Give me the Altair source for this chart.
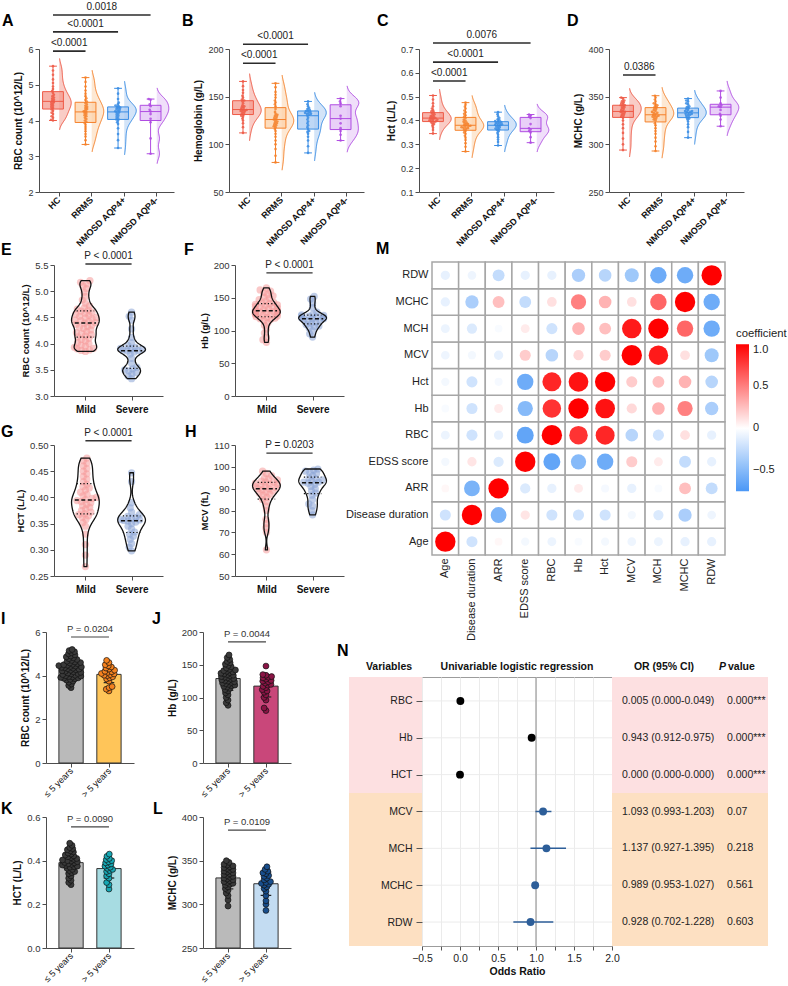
import json

import altair as alt
import pandas as pd

FONT = "Liberation Sans"
AXC = "#4d4d4d"

# ---------------------------------------------------------------- A-D: indices by diagnosis
GROUPS4 = ["HC", "RRMS", "NMOSD AQP4+", "NMOSD AQP4-"]
RC_LINE = ["#ee5a47", "#f5812b", "#3a8de4", "#b04ce2"]
RC_FILL = ["#f49a8e", "#fcd1a8", "#a8caf2", "#e2c0f5"]

RBC_4 = [
    [4.00, 4.02, 4.08, 4.12, 4.18, 4.22, 4.27, 4.31, 4.35, 4.38, 4.41, 4.44, 4.47, 4.50, 4.52,
     4.55, 4.58, 4.61, 4.64, 4.68, 4.72, 4.77, 4.82, 4.88, 4.95, 5.05, 5.15, 5.28, 5.40, 5.52],
    [3.33, 3.45, 3.55, 3.62, 3.70, 3.76, 3.82, 3.88, 3.93, 3.96, 4.00, 4.04, 4.08, 4.12, 4.15,
     4.18, 4.21, 4.24, 4.26, 4.29, 4.32, 4.35, 4.38, 4.41, 4.45, 4.49, 4.53, 4.57, 4.62, 4.68,
     4.75, 4.84, 4.95, 5.08, 5.20],
    [3.23, 3.45, 3.62, 3.78, 3.90, 3.95, 4.00, 4.03, 4.06, 4.10, 4.13, 4.16, 4.19, 4.22, 4.24,
     4.26, 4.28, 4.30, 4.32, 4.34, 4.36, 4.38, 4.40, 4.42, 4.45, 4.50, 4.60, 4.75, 4.90],
    [3.07, 3.50, 3.95, 4.05, 4.18, 4.25, 4.30, 4.40, 4.45, 4.58, 4.60],
]
HB_4 = [
    [112, 118, 122, 125, 127, 129, 130, 131, 132, 133, 134, 135, 135, 136, 136,
     137, 138, 139, 140, 141, 143, 145, 146, 147, 149, 151, 154, 157, 161, 166],
    [81, 88, 95, 100, 104, 108, 111, 114, 116, 118, 119, 120, 121, 122, 123, 124, 125, 126,
     127, 128, 129, 130, 131, 132, 134, 137, 140, 142, 144, 146, 149, 152, 155, 160, 164],
    [91, 98, 104, 108, 111, 113, 114, 116, 118, 120, 122, 124, 126, 128, 130,
     131, 132, 132, 133, 133, 134, 135, 135, 136, 137, 138, 140, 142, 145],
    [104, 110, 114, 117, 122, 127, 130, 140, 143, 145, 148],
]
HCT_4 = [
    [0.345, 0.360, 0.370, 0.378, 0.384, 0.388, 0.392, 0.395, 0.397, 0.399, 0.401, 0.403, 0.405,
     0.407, 0.409, 0.411, 0.413, 0.416, 0.419, 0.422, 0.426, 0.430, 0.434, 0.438, 0.443, 0.450,
     0.460, 0.472, 0.488, 0.505],
    [0.270, 0.290, 0.305, 0.318, 0.328, 0.336, 0.344, 0.350, 0.356, 0.362, 0.365, 0.368, 0.370,
     0.372, 0.374, 0.376, 0.378, 0.380, 0.382, 0.385, 0.388, 0.391, 0.395, 0.399, 0.404, 0.410,
     0.416, 0.422, 0.428, 0.435, 0.442, 0.450, 0.458, 0.466, 0.475],
    [0.295, 0.310, 0.320, 0.330, 0.340, 0.348, 0.355, 0.360, 0.363, 0.366, 0.369, 0.372, 0.375,
     0.378, 0.380, 0.382, 0.384, 0.386, 0.388, 0.390, 0.393, 0.395, 0.398, 0.401, 0.405, 0.410,
     0.418, 0.426, 0.435],
    [0.307, 0.330, 0.350, 0.356, 0.362, 0.367, 0.385, 0.410, 0.416, 0.421, 0.425],
]
MCHC_4 = [
    [294, 300, 306, 312, 317, 321, 325, 328, 329, 330, 331, 332, 333, 334, 334,
     335, 336, 337, 338, 339, 340, 341, 341, 342, 343, 344, 345, 346, 348, 349],
    [293, 298, 303, 307, 311, 314, 317, 320, 322, 325, 326, 327, 328, 329, 329, 330, 330, 331,
     332, 333, 333, 334, 335, 336, 337, 338, 339, 340, 341, 342, 343, 345, 347, 349, 351],
    [307, 313, 318, 321, 324, 326, 327, 328, 329, 330, 331, 331, 332, 332, 333,
     334, 334, 335, 335, 336, 337, 338, 339, 340, 342, 343, 345, 346, 348],
    [319, 326, 330, 332, 336, 339, 340, 341, 343, 349, 356],
]

# comparison brackets: panel, first group, second group, bracket level, p label
SIG_PANEL = ["A", "A", "A", "B", "B", "C", "C", "C", "D"]
SIG_G1 = [0, 0, 0, 0, 0, 0, 0, 0, 0]
SIG_G2 = [1, 2, 3, 1, 2, 1, 2, 3, 1]
SIG_LEVEL = [5.94, 6.48, 6.95, 185, 205, 0.566, 0.645, 0.725, 372.7]
SIG_LABEL = ["<0.0001", "<0.0001", "0.0018", "<0.0001", "<0.0001",
             "<0.0001", "<0.0001", "0.0076", "0.0386"]

# ---------------------------------------------------------------- E-H: mild vs severe
SEVERITY = ["Mild", "Severe"]
E_MILD = [3.85, 3.87, 3.88, 3.90, 3.91, 3.93, 3.95, 3.97, 4.00, 4.02, 4.05, 4.08, 4.10, 4.13,
          4.15, 4.17, 4.19, 4.21, 4.23, 4.26, 4.29, 4.31, 4.33, 4.35, 4.37, 4.39, 4.40, 4.42,
          4.44, 4.45, 4.47, 4.49, 4.50, 4.52, 4.54, 4.56, 4.58, 4.60, 4.62, 4.64, 4.66, 4.68,
          4.72, 4.77, 4.83, 4.90, 4.98, 5.05, 5.10, 5.14, 5.17, 5.20]
E_SEVERE = [3.33, 3.38, 3.42, 3.45, 3.48, 3.50, 3.52, 3.55, 3.62, 3.72, 3.80, 3.84, 3.86, 3.87,
            3.88, 3.89, 3.90, 3.91, 3.93, 3.96, 4.02, 4.12, 4.28, 4.45, 4.52, 4.60]
F_MILD = [82, 86, 90, 96, 102, 108, 112, 115, 117, 118, 119, 120, 121, 122, 123, 124, 125, 126,
          126, 127, 128, 128, 129, 129, 130, 130, 131, 132, 133, 134, 135, 136, 137, 138, 139,
          140, 141, 142, 143, 145, 147, 149, 151, 153, 155, 158, 160, 162, 165]
F_SEVERE = [90, 95, 100, 104, 106, 107, 109, 111, 113, 115, 116, 117, 118, 118, 119, 120, 121,
            122, 122, 123, 124, 125, 128, 135, 142, 148, 152]
G_MILD = [0.268, 0.290, 0.310, 0.330, 0.345, 0.352, 0.358, 0.362, 0.365, 0.367, 0.369, 0.372,
          0.375, 0.378, 0.381, 0.384, 0.387, 0.390, 0.392, 0.394, 0.396, 0.398, 0.400, 0.403,
          0.406, 0.410, 0.414, 0.418, 0.421, 0.425, 0.430, 0.435, 0.440, 0.445, 0.450, 0.455,
          0.460, 0.465, 0.470, 0.475]
G_SEVERE = [0.298, 0.305, 0.312, 0.320, 0.326, 0.330, 0.334, 0.340, 0.345, 0.350, 0.353, 0.355,
            0.356, 0.357, 0.358, 0.360, 0.362, 0.364, 0.367, 0.372, 0.380, 0.390, 0.430, 0.447]
H_MILD = [62, 70, 72, 74, 76, 80, 82, 84, 85, 86, 87, 87.5, 88, 88.5, 89, 89.5, 90, 90, 90.5,
          91, 91, 91.5, 92, 92, 92.5, 93, 93, 93.5, 94, 94.5, 95, 96, 97, 98]
H_SEVERE = [78, 80, 82, 83, 85, 87, 88, 89, 90, 91, 92, 92.5, 93, 93, 93.5, 94, 94.5, 95, 96,
            97, 97.5, 98, 98.5, 99]
SEV_DOT = ["#f59a9a", "#8ba4d6"]

# ---------------------------------------------------------------- I-L: disease duration
DURATION = ["\u2264 5 years", "> 5 years"]
I_LE5 = [3.45, 3.55, 3.62, 3.70, 3.75, 3.80, 3.83, 3.86, 3.88, 3.90, 3.92, 3.94, 3.96, 3.98,
         4.00, 4.02, 4.05, 4.08, 4.10, 4.12, 4.15, 4.18, 4.20, 4.22, 4.25, 4.27, 4.30, 4.32,
         4.34, 4.36, 4.38, 4.40, 4.42, 4.44, 4.46, 4.48, 4.50, 4.52, 4.55, 4.58, 4.60, 4.63,
         4.66, 4.70, 4.74, 4.78, 4.82, 4.86, 4.90, 4.95, 5.00, 5.05, 5.10, 5.15, 5.20]
I_GT5 = [3.30, 3.38, 3.45, 3.50, 3.75, 3.85, 3.90, 3.95, 4.00, 4.02, 4.05, 4.08, 4.10, 4.15,
         4.18, 4.20, 4.25, 4.30, 4.35, 4.40, 4.45, 4.50, 4.60, 4.70]
J_LE5 = [88, 92, 96, 100, 104, 107, 110, 112, 114, 116, 117, 118, 119, 120, 121, 122, 123, 124,
         125, 126, 127, 128, 129, 130, 131, 132, 133, 134, 135, 136, 137, 138, 139, 140, 141,
         142, 143, 145, 147, 149, 151, 153, 155, 158, 161, 165]
J_GT5 = [80, 84, 96, 100, 104, 108, 110, 112, 115, 117, 119, 120, 122, 124, 125, 126, 128, 130,
         131, 132, 134, 135, 148]
K_LE5 = [0.29, 0.30, 0.31, 0.32, 0.33, 0.34, 0.345, 0.35, 0.355, 0.36, 0.365, 0.37, 0.372,
         0.375, 0.378, 0.38, 0.383, 0.386, 0.39, 0.392, 0.395, 0.398, 0.40, 0.403, 0.406, 0.41,
         0.414, 0.418, 0.422, 0.426, 0.43, 0.435, 0.44, 0.445, 0.45, 0.455, 0.46, 0.47, 0.48]
K_GT5 = [0.27, 0.29, 0.30, 0.32, 0.33, 0.34, 0.35, 0.355, 0.36, 0.365, 0.37, 0.375, 0.38, 0.385,
         0.39, 0.395, 0.40, 0.405, 0.41, 0.42, 0.43]
L_LE5 = [298, 305, 310, 313, 316, 318, 320, 322, 323, 324, 325, 326, 327, 328, 329, 330, 331,
         332, 333, 334, 335, 336, 337, 338, 339, 340, 341, 342, 343, 344, 345, 346, 348, 350]
L_GT5 = [293, 300, 304, 310, 315, 318, 320, 322, 323, 324, 325, 326, 328, 330, 332, 333, 335,
         336, 338, 340, 343]

# ---------------------------------------------------------------- M: correlation matrix
CORR_VARS = ["Age", "Disease duration", "ARR", "EDSS score", "RBC", "Hb", "Hct",
             "MCV", "MCH", "MCHC", "RDW"]
CORR = [
    [1.00, -0.20, 0.03, -0.05, -0.08, -0.03, -0.05, -0.07, -0.08, -0.10, -0.10],
    [-0.20, 1.00, -0.55, 0.10, -0.20, -0.20, -0.20, -0.05, -0.15, -0.35, -0.07],
    [0.03, -0.55, 1.00, -0.15, -0.10, 0.08, -0.04, -0.10, -0.03, 0.25, -0.25],
    [-0.05, 0.10, -0.15, 1.00, -0.65, -0.50, -0.60, 0.20, 0.08, -0.25, -0.10],
    [-0.08, -0.20, -0.10, -0.65, 1.00, 0.80, 0.85, -0.30, -0.20, 0.12, -0.10],
    [-0.03, -0.20, 0.08, -0.50, 0.80, 1.00, 0.93, 0.15, 0.30, 0.50, -0.35],
    [-0.05, -0.20, -0.04, -0.60, 0.85, 0.93, 1.00, 0.20, 0.25, 0.30, -0.30],
    [-0.07, -0.05, -0.10, 0.20, -0.30, 0.15, 0.20, 1.00, 0.90, 0.12, -0.40],
    [-0.08, -0.15, -0.03, 0.08, -0.20, 0.30, 0.25, 0.90, 1.00, 0.60, -0.60],
    [-0.10, -0.35, 0.25, -0.25, 0.12, 0.50, 0.30, 0.12, 0.60, 1.00, -0.60],
    [-0.10, -0.07, -0.25, -0.10, -0.10, -0.35, -0.30, -0.40, -0.60, -0.60, 1.00],
]

# ---------------------------------------------------------------- N: logistic regression
N_VARS = ["RBC", "Hb", "HCT", "MCV", "MCH", "MCHC", "RDW"]
N_OR = [0.005, 0.943, 0.000, 1.093, 1.137, 0.989, 0.928]
N_LO = [0.000, 0.912, 0.000, 0.993, 0.927, 0.953, 0.702]
N_HI = [0.049, 0.975, 0.000, 1.203, 1.395, 1.027, 1.228]
N_P = ["0.000***", "0.000***", "0.000***", "0.07", "0.218", "0.561", "0.603"]
N_BAND = ["sig", "ns"]
N_BAND_FROM = [-0.65, 2.5]
N_BAND_TO = [2.5, 6.65]
N_XDOM = [-0.5, 2.0]
N_XTICKS = [-0.5, -0.25, 0.0, 0.25, 0.5, 0.75, 1.0, 1.25, 1.5, 1.75, 2.0]
N_NULL = 1.0

INDEPENDENT = dict(color="independent", fill="independent", stroke="independent",
                   size="independent")


# ---------------------------------------------------------------- helpers
def swarm(values, ppu, diam, limit):
    """Greedy beeswarm: pixel offsets keeping dots of diameter `diam` apart."""
    ys = [v * ppu for v in values]
    order = sorted(range(len(ys)), key=lambda i: ys[i])
    placed, out = [], [0.0] * len(ys)
    for i in order:
        y = ys[i]
        blocked = []
        for py, px in placed:
            dy = abs(y - py)
            if dy < diam:
                h = (diam * diam - dy * dy) ** 0.5
                blocked.append((px - h, px + h))
        cands = [0.0] + [b[0] for b in blocked] + [b[1] for b in blocked]
        cands.sort(key=lambda c: (round(abs(c), 6), c))
        x = 0.0
        for c in cands:
            if all(not (lo + 1e-6 < c < hi - 1e-6) for lo, hi in blocked):
                x = c
                break
        x = max(-limit, min(limit, x))
        placed.append((y, x))
        out[i] = x
    return out


def letter(ch, dx, dy):
    return alt.Chart(pd.DataFrame({"t": [ch]})).mark_text(
        align="left", baseline="middle", fontSize=16, fontWeight="bold", color="#000"
    ).encode(text="t:N", x=alt.value(dx), y=alt.value(dy))


def spacer(w, h):
    return alt.Chart(pd.DataFrame({"s": [0]})).mark_point(opacity=0).encode(
        x=alt.value(0), y=alt.value(0)
    ).properties(width=w, height=h)


def num_axis(title, values, fmt, lsize=9, tsize=10):
    return alt.Axis(
        title=title, values=values, format=fmt, domainColor=AXC, tickColor=AXC, tickSize=4,
        labelColor="#333", labelFontSize=lsize, labelPadding=2, titleFontSize=tsize,
        titleFontWeight="bold", titleColor="#111", titlePadding=4,
    )


def cat_axis(names, angle, lsize, weight):
    expr = json.dumps(names, ensure_ascii=False) + "[round(datum.value)]"
    rotated = angle != 0
    return alt.Axis(
        title=None, values=list(range(len(names))), labelExpr=expr, labelAngle=angle,
        labelAlign="right" if rotated else "center",
        labelBaseline="middle" if rotated else "top",
        domainColor=AXC, tickColor=AXC, tickSize=4, labelColor="#111",
        labelFontSize=lsize, labelFontWeight=weight, labelPadding=2 if rotated else 4,
    )


def pos(xsc, xax, ysc, yax):
    def X(f):
        return alt.X(f, type="quantitative", scale=xsc, axis=xax)

    def Y(f):
        return alt.Y(f, type="quantitative", scale=ysc, axis=yax)

    return X, Y


# ---------------------------------------------------------------- A-D panels
RC_XDOM = [-0.6, 3.55]
RC_W, RC_H = 135, 143
BOX_SHIFT, BOX_HALF, CAP_HALF = 0.17, 0.32, 0.12
VIO_START, VIO_WIDTH = 0.02, 0.37


def raincloud(ch, series, ydom, yticks, yfmt, ytitle, bw, lpos):
    xppu = RC_W / (RC_XDOM[1] - RC_XDOM[0])
    yppu = RC_H / (ydom[1] - ydom[0])
    rows = []
    for gi, vals in enumerate(series):
        offs = swarm(vals, yppu, 2.0, 8)
        for v, o in zip(vals, offs):
            rows.append({"grp": GROUPS4[gi], "idx": gi, "v": v,
                         "xp": gi - BOX_SHIFT + o / xppu})
    df = pd.DataFrame(rows)
    allv = [v for s in series for v in s]
    ext = [min(allv) - 3 * bw, max(allv) + 3 * bw]

    X, Y = pos(alt.Scale(domain=RC_XDOM, nice=False, zero=False),
               cat_axis(GROUPS4, -45, 9, "bold"),
               alt.Scale(domain=ydom, nice=False, zero=False),
               num_axis(ytitle, yticks, yfmt))
    fsc = alt.Scale(domain=GROUPS4, range=RC_FILL)
    ssc = alt.Scale(domain=GROUPS4, range=RC_LINE)
    stroke = alt.Stroke("grp:N", scale=ssc, legend=None)
    fill = alt.Fill("grp:N", scale=fsc, legend=None)
    base = alt.Chart(df)

    dens = base.transform_density(
        "v", groupby=["grp", "idx"], as_=["v", "density"], bandwidth=bw, extent=ext, steps=160
    ).transform_joinaggregate(dmax="max(density)", groupby=["grp"]).transform_calculate(
        rel="datum.density / datum.dmax"
    ).transform_filter("datum.rel > 0.03").transform_calculate(
        x0=f"datum.idx + {VIO_START}",
        x1=f"datum.idx + {VIO_START} + {VIO_WIDTH} * datum.rel",
    )
    violin = dens.mark_area(orient="horizontal", fillOpacity=0.5).encode(
        y=Y("v"), x=X("x0"), x2="x1:Q", fill=fill)
    edge = dens.mark_line(strokeWidth=1).encode(
        y=Y("v"), x=X("x1"), stroke=stroke, order=alt.Order("v:Q"))

    stats = base.transform_aggregate(
        q1="q1(v)", med="median(v)", q3="q3(v)", lo="min(v)", hi="max(v)",
        groupby=["grp", "idx"],
    ).transform_calculate(
        bl=f"datum.idx - {BOX_SHIFT} - {BOX_HALF}",
        br=f"datum.idx - {BOX_SHIFT} + {BOX_HALF}",
        bc=f"datum.idx - {BOX_SHIFT}",
        cl=f"datum.idx - {BOX_SHIFT} - {CAP_HALF}",
        cr=f"datum.idx - {BOX_SHIFT} + {CAP_HALF}",
    )
    box = stats.mark_rect(strokeWidth=1, fillOpacity=0.75).encode(
        x=X("bl"), x2="br:Q", y=Y("q1"), y2="q3:Q", fill=fill, stroke=stroke)
    w_lo = stats.mark_rule(strokeWidth=1).encode(x=X("bc"), y=Y("lo"), y2="q1:Q", stroke=stroke)
    w_hi = stats.mark_rule(strokeWidth=1).encode(x=X("bc"), y=Y("q3"), y2="hi:Q", stroke=stroke)
    c_lo = stats.mark_rule(strokeWidth=1).encode(x=X("cl"), x2="cr:Q", y=Y("lo"), stroke=stroke)
    c_hi = stats.mark_rule(strokeWidth=1).encode(x=X("cl"), x2="cr:Q", y=Y("hi"), stroke=stroke)
    med = stats.mark_rule(strokeWidth=1).encode(x=X("bl"), x2="br:Q", y=Y("med"), stroke=stroke)

    pts = base.mark_circle(size=7, opacity=0.85).encode(
        x=X("xp"), y=Y("v"), color=alt.Color("grp:N", scale=ssc, legend=None))

    sig_df = pd.DataFrame({"panel": SIG_PANEL, "g1": SIG_G1, "g2": SIG_G2,
                           "level": SIG_LEVEL, "label": SIG_LABEL})
    sig_df = sig_df[sig_df["panel"] == ch]
    sig = alt.Chart(sig_df).transform_calculate(
        a=f"datum.g1 - {BOX_SHIFT}", b=f"datum.g2 - {BOX_SHIFT}",
        m=f"(datum.g1 + datum.g2) / 2 - {BOX_SHIFT}",
    )
    sig_rule = sig.mark_rule(strokeWidth=1.6, color="#2b2b2b").encode(
        x=X("a"), x2="b:Q", y=Y("level"))
    sig_text = sig.mark_text(dy=-8, fontSize=10, color="#222").encode(
        x=X("m"), y=Y("level"), text="label:N")

    return alt.layer(
        violin, edge, box, pts, w_lo, w_hi, c_lo, c_hi, med, sig_rule, sig_text,
        letter(ch, *lpos),
    ).properties(width=RC_W, height=RC_H)


# ---------------------------------------------------------------- E-H panels
V2_XDOM = [-0.68, 1.68]
V2_W, V2_H = 109, 131
V2_HALF = 0.3


def violin_pair(ch, series, ydom, yticks, yfmt, ytitle, bw, level, ptext, lpos):
    xppu = V2_W / (V2_XDOM[1] - V2_XDOM[0])
    yppu = V2_H / (ydom[1] - ydom[0])
    rows = []
    for gi, vals in enumerate(series):
        offs = swarm(vals, yppu, 4.4, 11)
        for v, o in zip(vals, offs):
            rows.append({"grp": SEVERITY[gi], "idx": gi, "v": v, "xp": gi + o / xppu})
    df = pd.DataFrame(rows)
    X, Y = pos(alt.Scale(domain=V2_XDOM, nice=False, zero=False),
               cat_axis(SEVERITY, 0, 10, "bold"),
               alt.Scale(domain=ydom, nice=False, zero=False),
               num_axis(ytitle, yticks, yfmt, 9.5, 9.5))

    base = alt.Chart(df)
    pts = base.mark_circle(size=52, opacity=0.55).encode(
        x=X("xp"), y=Y("v"),
        color=alt.Color("grp:N", scale=alt.Scale(domain=SEVERITY, range=SEV_DOT), legend=None),
    )
    layers = [pts]
    for gi, vals in enumerate(series):
        shape = base.transform_filter(f"datum.idx == {gi}").transform_density(
            "v", as_=["v", "density"], bandwidth=bw, extent=[min(vals), max(vals)], steps=120
        ).transform_joinaggregate(dmax="max(density)").transform_calculate(
            xl=f"{gi} - {V2_HALF} * datum.density / datum.dmax",
            xr=f"{gi} + {V2_HALF} * datum.density / datum.dmax",
        ).mark_area(orient="horizontal", fill="white", fillOpacity=0, stroke="#111",
                    strokeWidth=1.3).encode(y=Y("v"), x=X("xl"), x2="xr:Q")
        layers.append(shape)

    qs = base.transform_aggregate(
        q1="q1(v)", med="median(v)", q3="q3(v)", groupby=["idx"]
    ).transform_calculate(
        ml="datum.idx - 0.23", mr="datum.idx + 0.23",
        ql="datum.idx - 0.19", qr="datum.idx + 0.19",
    )
    layers.append(qs.mark_rule(strokeWidth=1.5, color="#111", strokeDash=[4, 2.5]).encode(
        x=X("ml"), x2="mr:Q", y=Y("med")))
    layers.append(qs.mark_rule(strokeWidth=1.2, color="#111", strokeDash=[1.2, 2.2]).encode(
        x=X("ql"), x2="qr:Q", y=Y("q1")))
    layers.append(qs.mark_rule(strokeWidth=1.2, color="#111", strokeDash=[1.2, 2.2]).encode(
        x=X("ql"), x2="qr:Q", y=Y("q3")))

    sig = alt.Chart(pd.DataFrame({"a": [0], "b": [1], "m": [0.5], "level": [level],
                                  "label": [ptext]}))
    layers.append(sig.mark_rule(strokeWidth=1.4, color="#333").encode(
        x=X("a"), x2="b:Q", y=Y("level")))
    layers.append(sig.mark_text(dy=-8, fontSize=10, color="#222").encode(
        x=X("m"), y=Y("level"), text="label:N"))
    layers.append(letter(ch, *lpos))
    return alt.layer(*layers).properties(width=V2_W, height=V2_H)


# ---------------------------------------------------------------- I-L panels
B2_XDOM = [-0.66, 1.66]
B2_W, B2_H = 88, 131
BAR_HALF, ECAP = 0.32, 0.14


def bar_pair(ch, series, ydom, yticks, yfmt, ytitle, bar_cols, dot_cols, level, ptext, lpos):
    xppu = B2_W / (B2_XDOM[1] - B2_XDOM[0])
    yppu = B2_H / (ydom[1] - ydom[0])
    rows = []
    for gi, vals in enumerate(series):
        offs = swarm(vals, yppu, 3.2, 14)
        for v, o in zip(vals, offs):
            rows.append({"grp": DURATION[gi], "idx": gi, "v": v, "xp": gi + o / xppu})
    df = pd.DataFrame(rows)
    X, Y = pos(alt.Scale(domain=B2_XDOM, nice=False, zero=False),
               cat_axis(DURATION, -45, 9, "normal"),
               alt.Scale(domain=ydom, nice=False, zero=False),
               num_axis(ytitle, yticks, yfmt, 9.5, 10))

    base = alt.Chart(df)
    summ = base.transform_aggregate(
        mean="mean(v)", sd="stdev(v)", groupby=["grp", "idx"]
    ).transform_calculate(
        bl=f"datum.idx - {BAR_HALF}", br=f"datum.idx + {BAR_HALF}",
        cl=f"datum.idx - {ECAP}", cr=f"datum.idx + {ECAP}",
        elo="datum.mean - datum.sd", ehi="datum.mean + datum.sd",
    )
    bars = summ.mark_rect(stroke="#333", strokeWidth=1).encode(
        x=X("bl"), x2="br:Q", y=Y("mean"), y2=alt.datum(ydom[0]),
        fill=alt.Fill("grp:N", scale=alt.Scale(domain=DURATION, range=bar_cols), legend=None),
    )
    err = summ.mark_rule(strokeWidth=1.2, color="#222").encode(x=X("idx"), y=Y("elo"), y2="ehi:Q")
    cap_lo = summ.mark_rule(strokeWidth=1.2, color="#222").encode(x=X("cl"), x2="cr:Q", y=Y("elo"))
    cap_hi = summ.mark_rule(strokeWidth=1.2, color="#222").encode(x=X("cl"), x2="cr:Q", y=Y("ehi"))
    dots = base.mark_circle(size=34, opacity=1, stroke="#111", strokeWidth=0.7).encode(
        x=X("xp"), y=Y("v"),
        color=alt.Color("grp:N", scale=alt.Scale(domain=DURATION, range=dot_cols), legend=None),
    )
    sig = alt.Chart(pd.DataFrame({"a": [0], "b": [1], "m": [0.5], "level": [level],
                                  "label": [ptext]}))
    sig_rule = sig.mark_rule(strokeWidth=1.2, color="#444").encode(
        x=X("a"), x2="b:Q", y=Y("level"))
    sig_text = sig.mark_text(dy=-8, fontSize=9.5, color="#333").encode(
        x=X("m"), y=Y("level"), text="label:N")
    return alt.layer(
        bars, err, cap_lo, cap_hi, dots, sig_rule, sig_text, letter(ch, *lpos)
    ).properties(width=B2_W, height=B2_H)


# ---------------------------------------------------------------- M panel
def corr_panel():
    rows = []
    for i, rv in enumerate(CORR_VARS):
        for j, cv in enumerate(CORR_VARS):
            r = CORR[i][j]
            rows.append({"row": rv, "col": cv, "r": r, "ar": abs(r)})
    df = pd.DataFrame(rows)
    band = alt.Scale(paddingInner=0, paddingOuter=0)
    xax = alt.Axis(title=None, labelAngle=-90, labelAlign="right", labelBaseline="middle",
                   labelFontSize=11, labelColor="#222", domain=False, ticks=False,
                   labelPadding=3)
    yax = alt.Axis(title=None, labelFontSize=11, labelColor="#222", domain=False,
                   ticks=False, labelPadding=4)
    x = alt.X("col:N", sort=CORR_VARS, scale=band, axis=xax)
    y = alt.Y("row:N", sort=CORR_VARS[::-1], scale=band, axis=yax)
    cells = alt.Chart(df).mark_rect(fill="white", stroke="#a6a6a6", strokeWidth=1.5).encode(
        x=x, y=y)
    dots = alt.Chart(df).mark_circle(opacity=1).encode(
        x=x, y=y,
        color=alt.Color(
            "r:Q",
            scale=alt.Scale(domain=[-0.75, 0, 1], range=["#4a97f6", "#ffffff", "#ff0000"],
                            interpolate="rgb"),
            legend=alt.Legend(
                title="coefficient", orient="none", legendX=304, legendY=66,
                direction="vertical", gradientLength=147, gradientThickness=13,
                gradientStrokeWidth=0, values=[-0.5, 0, 0.5, 1],
                labelExpr="datum.value == 0 ? '0' : format(datum.value, '.1f')",
                titleFontSize=11.3, titleFontWeight="normal", titleColor="#222",
                labelFontSize=11, labelColor="#222", titlePadding=5, labelOffset=4,
            ),
        ),
        size=alt.Size("ar:Q", scale=alt.Scale(domain=[0, 1], range=[50, 415]), legend=None),
    )
    return alt.layer(cells, dots, letter("M", -56, -13)).properties(width=293, height=293)


# ---------------------------------------------------------------- N panel
def forest_panel():
    W, H = 190, 269
    df = pd.DataFrame({"var": N_VARS, "row": list(range(len(N_VARS))), "or": N_OR,
                       "lo": N_LO, "hi": N_HI, "p": N_P})
    df["ci"] = [f"{o:.3f} ({l:.3f}-{h:.3f})" for o, l, h in zip(N_OR, N_LO, N_HI)]
    df["sig"] = ["yes" if "*" in p else "no" for p in N_P]
    bands = pd.DataFrame({"band": N_BAND, "y0": N_BAND_FROM, "y1": N_BAND_TO})
    ydom = [N_BAND_FROM[0], N_BAND_TO[-1]]

    xsc = alt.Scale(domain=N_XDOM, nice=False, zero=False)
    ysc = alt.Scale(domain=ydom, nice=False, zero=False, reverse=True)
    yax = alt.Axis(title=None, values=list(range(len(N_VARS))),
                   labelExpr=json.dumps(N_VARS) + "[round(datum.value)]", domain=False,
                   grid=False, tickColor="#555", tickSize=6, labelPadding=4,
                   labelFontSize=10.5, labelColor="#222", zindex=1)
    xax = alt.Axis(title="Odds Ratio", values=N_XTICKS,
                   labelExpr="(datum.value * 2) % 1 === 0 ? format(datum.value, '.1f') : ''",
                   domain=False, grid=True, gridColor="#ebebeb", tickColor="#555",
                   tickSize=4, labelFontSize=10.5, labelColor="#222", labelPadding=3,
                   titleFontSize=10.5, titleFontWeight="bold", titleColor="#111",
                   titlePadding=3)
    X, Y = pos(xsc, xax, ysc, yax)
    bfill = alt.Fill("band:N", scale=alt.Scale(domain=N_BAND, range=["#fde0e1", "#fde0c2"]),
                     legend=None)

    left = alt.Chart(bands).mark_rect().encode(
        x=alt.value(-73), x2=alt.value(0), y=Y("y0"), y2="y1:Q", fill=bfill)
    right = alt.Chart(bands).mark_rect().encode(
        x=alt.value(W), x2=alt.value(W + 156), y=Y("y0"), y2="y1:Q", fill=bfill)
    rowlines = alt.Chart(df).mark_rule(color="#ececec", strokeWidth=1).encode(
        x=alt.X(datum=N_XDOM[0], type="quantitative", scale=xsc, axis=xax),
        x2=alt.datum(N_XDOM[1]), y=Y("row"))
    null = alt.Chart(pd.DataFrame({"x": [N_NULL]})).mark_rule(
        color="#9a9a9a", strokeWidth=1.2).encode(
        x=X("x"), y=alt.Y(datum=ydom[0], type="quantitative", scale=ysc, axis=yax),
        y2=alt.datum(ydom[1]))
    col = alt.Color("sig:N", scale=alt.Scale(domain=["yes", "no"], range=["#000000", "#2d5e99"]),
                    legend=None)
    err = alt.Chart(df).mark_rule(strokeWidth=1.5).encode(
        x=X("lo"), x2="hi:Q", y=Y("row"), color=col)
    pts = alt.Chart(df).mark_circle(size=62, opacity=1).encode(
        x=X("or"), y=Y("row"), color=col)
    ci = alt.Chart(df).mark_text(align="left", fontSize=10.5, color="#222").encode(
        x=alt.value(W + 10), y=Y("row"), text="ci:N")
    pv = alt.Chart(df).mark_text(align="left", fontSize=10.5, color="#222").encode(
        x=alt.value(W + 115), y=Y("row"), text="p:N")

    def head(text, x, align="center", style="normal"):
        return alt.Chart(pd.DataFrame({"t": [text]})).mark_text(
            align=align, baseline="middle", fontSize=10.5, fontWeight="bold",
            fontStyle=style, color="#111",
        ).encode(text="t:N", x=alt.value(x), y=alt.value(-10))

    layers = [left, right, rowlines, null, err, pts, ci, pv,
              head("Variables", -33), head("Univariable logistic regression", W / 2),
              head("OR (95%  CI)", 242), head("P", 297, "left", "italic"),
              head("value", 306, "left"), letter("N", -85, -26)]
    return alt.layer(*layers).properties(
        width=W, height=H, view=alt.ViewBackground(stroke="#9c9c9c", strokeWidth=1))


# ---------------------------------------------------------------- assemble
A = raincloud("A", RBC_4, [2, 6], [2, 3, 4, 5, 6], "d", "RBC count (10^12/L)", 0.14, (-37, -28))
B = raincloud("B", HB_4, [50, 200], [50, 100, 150, 200], "d", "Hemoglobin  (g/L)", 6, (-47, -28))
C = raincloud("C", HCT_4, [0.1, 0.7], [0.1, 0.2, 0.3, 0.4, 0.5, 0.6, 0.7], ".1f",
              "Hct  (L/L)", 0.02, (-42, -28))
D = raincloud("D", MCHC_4, [250, 400], [250, 300, 350, 400], "d", "MCHC  (g/L)", 5.5,
              (-42, -28))

E = violin_pair("E", [E_MILD, E_SEVERE], [3.0, 5.5], [3.0, 3.5, 4.0, 4.5, 5.0, 5.5], ".1f",
                "RBC count (10^12/L)", 0.07, 5.52, "P < 0.0001", (-53, -15))
F = violin_pair("F", [F_MILD, F_SEVERE], [0, 200], [0, 50, 100, 150, 200], "d",
                "Hb (g/L)", 5, 188, "P < 0.0001", (-51, -15))
G = violin_pair("G", [G_MILD, G_SEVERE], [0.25, 0.50], [0.25, 0.30, 0.35, 0.40, 0.45, 0.50],
                ".2f", "HCT (L/L)", 0.012, 0.508, "P < 0.0001", (-53, -13))
H = violin_pair("H", [H_MILD, H_SEVERE], [50, 110], [50, 60, 70, 80, 90, 100, 110], "d",
                "MCV (fL)", 2.0, 106.3, "P = 0.0203", (-50, -13))

GREY_BAR, GREY_DOT = "#bababa", "#3a3a3a"
I = bar_pair("I", [I_LE5, I_GT5], [0, 6], [0, 2, 4, 6], "d", "RBC count (10^12/L)",
             [GREY_BAR, "#ffc559"], [GREY_DOT, "#f5821f"], 5.77, "P = 0.0204", (-45, -13))
J = bar_pair("J", [J_LE5, J_GT5], [0, 200], [0, 50, 100, 150, 200], "d", "Hb (g/L)",
             [GREY_BAR, "#c9477a"], [GREY_DOT, "#8a1445"], 185, "P = 0.0044", (-51, -13))
K = bar_pair("K", [K_LE5, K_GT5], [0, 0.6], [0.0, 0.2, 0.4, 0.6], ".1f", "HCT (L/L)",
             [GREY_BAR, "#a7dce2"], [GREY_DOT, "#17a8b4"], 0.555, "P = 0.0090", (-45, -8))
L = bar_pair("L", [L_LE5, L_GT5], [250, 400], [250, 300, 350, 400], "d", "MCHC (g/L)",
             [GREY_BAR, "#c3dcf2"], [GREY_DOT, "#184e8d"], 385, "P = 0.0109", (-50, -8))

M = corr_panel()
N = forest_panel()

# each row is a flush group; the vertical spacers between rows set their offsets
row_abcd = alt.hconcat(A, B, C, D, spacing=55, bounds="flush").resolve_scale(**INDEPENDENT)
row_m = alt.hconcat(spacer(393, 1), M, spacing=0, bounds="flush").resolve_scale(**INDEPENDENT)
efgh = alt.concat(E, F, G, H, columns=2, spacing={"row": 49, "column": 72},
                  bounds="flush").resolve_scale(**INDEPENDENT)
row_efgh = alt.hconcat(spacer(15, 1), efgh, spacing=0,
                       bounds="flush").resolve_scale(**INDEPENDENT)
ijkl = alt.concat(I, J, K, L, columns=2, spacing={"row": 54, "column": 69},
                  bounds="flush").resolve_scale(**INDEPENDENT)
row_ijkl = alt.hconcat(spacer(7, 1), ijkl, spacing=0,
                       bounds="flush").resolve_scale(**INDEPENDENT)
row_n = alt.hconcat(spacer(383, 1), N, spacing=0, bounds="flush").resolve_scale(**INDEPENDENT)

chart = alt.vconcat(
    row_abcd, spacer(1, 213), row_m, spacer(1, 3), row_efgh, spacer(1, 367), row_ijkl,
    spacer(1, 45), row_n,
    spacing=0, bounds="flush",
).resolve_scale(**INDEPENDENT).properties(
    padding={"left": 1, "top": 2, "right": 0, "bottom": 0}
).configure_view(stroke=None).configure_axis(
    labelFont=FONT, titleFont=FONT, grid=False, labelFlush=False, labelOverlap=False
).configure_text(font=FONT).configure_legend(labelFont=FONT, titleFont=FONT)

chart.save("out.html", embed_options={"renderer": "svg", "actions": False})
